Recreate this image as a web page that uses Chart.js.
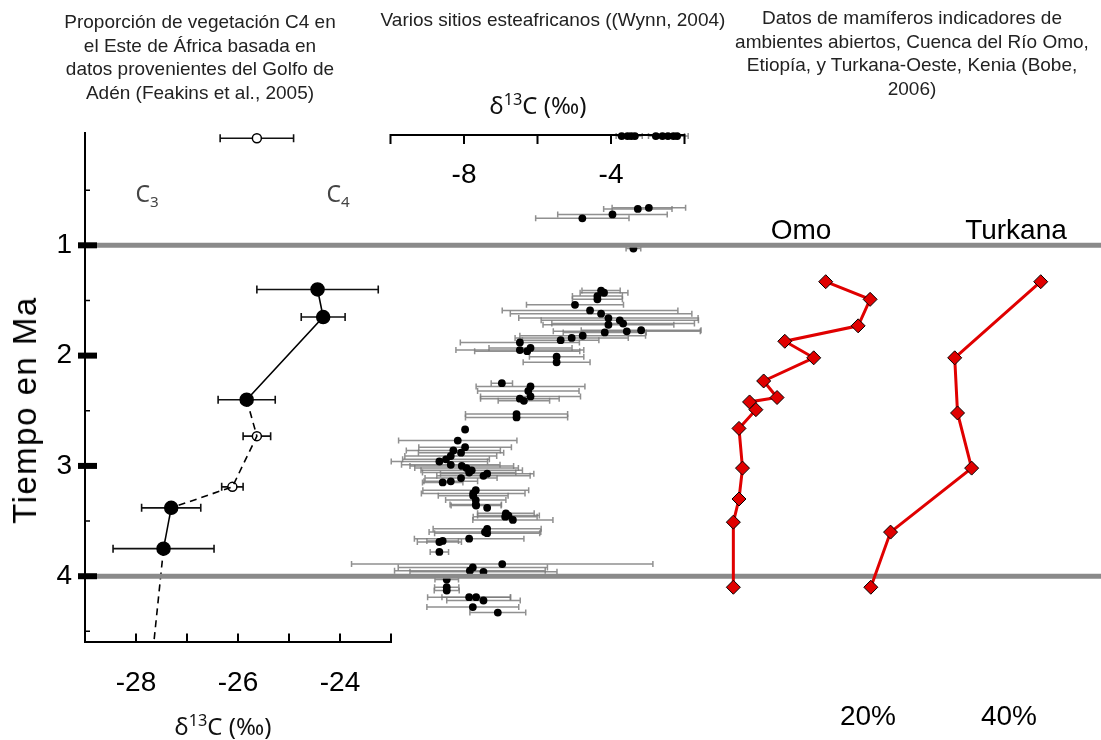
<!DOCTYPE html>
<html lang="es">
<head>
<meta charset="utf-8">
<title>Vegetación C4 y mamíferos de ambientes abiertos, África oriental</title>
<script src="https://cdn.jsdelivr.net/npm/chart.js@4.4.1/dist/chart.umd.min.js"></script>
<style>
  html, body { margin: 0; padding: 0; background: #fff; }
  #wrap { position: relative; width: 1101px; height: 740px; overflow: hidden;
          font-family: "Liberation Sans", Arial, sans-serif; color: #111; }
  #wrap canvas { position: absolute; left: 0; top: 0; }
  .lbl { position: absolute; transform: translate(-50%, -50%); white-space: nowrap; text-align: center; }
  .head { font-size: 19px; line-height: 23.5px; color: #222; }
  .big { font-size: 28px; color: #000; }
  .iso { font-family: "Noto Sans", "DejaVu Sans", sans-serif; font-size: 24px; color: #111; }
  .iso sup { font-size: 0.68em; }
  .cc { font-family: "Noto Sans", "DejaVu Sans", sans-serif; font-size: 23px; color: #444; }
  .cc sub { font-size: 0.66em; }
</style>
</head>
<body>
<div id="wrap">
  <canvas id="feakins" width="1101" height="740"></canvas>
  <canvas id="wynn" width="1101" height="740"></canvas>
  <canvas id="bobe" width="1101" height="740"></canvas>

  <div class="lbl head" style="left:200px; top:57px">Proporción de vegetación C4 en<br>el Este de África basada en<br>datos provenientes del Golfo de<br>Adén (Feakins et al., 2005)</div>
  <div class="lbl head" style="left:553px; top:20px">Varios sitios esteafricanos ((Wynn, 2004)</div>
  <div class="lbl head" style="left:912px; top:53px">Datos de mamíferos indicadores de<br>ambientes abiertos, Cuenca del Río Omo,<br>Etiopía, y Turkana-Oeste, Kenia (Bobe,<br>2006)</div>

  <div class="lbl iso" style="left:538px; top:104px">δ<sup>13</sup>C (‰)</div>
  <div class="lbl iso" style="left:223px; top:725px">δ<sup>13</sup>C (‰)</div>
  <div class="lbl cc" style="left:147px; top:194px">C<sub>3</sub></div>
  <div class="lbl cc" style="left:338px; top:194px">C<sub>4</sub></div>

  <div class="lbl big" style="left:801px; top:230px">Omo</div>
  <div class="lbl big" style="left:1016px; top:230px">Turkana</div>
  <div class="lbl big" style="left:25px; top:410px; font-size:33px; letter-spacing:1.5px; transform: translate(-50%, -50%) rotate(-90deg)">Tiempo en Ma</div>
</div>

<script>
// ---- data ----
// Golfo de Adén (Feakins et al., 2005): edad en Ma, d13C, error, tipo de símbolo
var feakAge  = [0.03, 1.40, 1.65, 2.40, 2.73, 3.19, 3.38, 3.75, 4.60];
var feakD13C = [-25.63, -24.44, -24.33, -25.83, -25.63, -26.11, -27.31, -27.46, -27.65];
var feakErr  = [0.72, 1.19, 0.43, 0.56, 0.27, 0.21, 0.58, 0.99, 0];
var feakType = ['open', 'filled', 'filled', 'filled', 'open', 'open', 'filled', 'filled', 'none'];

// sitios esteafricanos (Wynn, 2004)
var wynnAge = [
  0.01, 0.01, 0.01, 0.01, 0.01, 0.01, 0.01, 0.01, 0.01,
  0.66, 0.67, 0.72, 0.755, 1.03,
  1.41, 1.43, 1.46, 1.49, 1.54, 1.59, 1.62, 1.66, 1.68, 1.71, 1.72, 1.77,
  1.78, 1.79, 1.82, 1.84, 1.86, 1.88, 1.93, 1.95, 1.96, 2.01, 2.06,
  2.25, 2.28, 2.32, 2.37, 2.39, 2.41, 2.53, 2.56,
  2.67, 2.77, 2.83, 2.86, 2.88, 2.91, 2.94, 2.96, 2.99, 3.00, 3.02, 3.04,
  3.06, 3.07, 3.09, 3.11, 3.14, 3.15,
  3.22, 3.25, 3.27, 3.31, 3.35, 3.36, 3.38, 3.43, 3.45, 3.46, 3.49,
  3.57, 3.60, 3.61, 3.66, 3.68, 3.69, 3.78,
  3.89, 3.92, 3.95, 3.96,
  4.03, 4.10, 4.13, 4.19, 4.19, 4.22, 4.28, 4.33
];
var wynnD13C = [
  -3.71, -3.55, -3.45, -3.35, -2.78, -2.60, -2.45, -2.30, -2.20,
  -2.97, -3.27, -3.96, -4.78, -3.39,
  -4.27, -4.19, -4.37, -4.37, -4.98, -4.57, -4.27, -4.07, -3.76, -3.67, -4.07, -3.18,
  -3.57, -4.17, -4.77, -5.07, -5.37, -6.48, -6.19, -6.48, -6.28, -5.48, -5.48,
  -6.97, -6.19, -6.25, -6.19, -6.48, -6.37, -6.57, -6.57,
  -7.97, -8.17, -7.97, -8.29, -8.08, -8.36, -8.49, -8.67, -8.36, -8.06, -7.93, -7.79,
  -7.86, -7.37, -7.47, -8.08, -8.36, -8.58,
  -7.68, -7.75, -7.75, -7.68, -7.68, -7.67, -7.37, -6.86, -6.79, -6.88, -6.67,
  -7.37, -7.43, -7.37, -7.86, -8.58, -8.67, -8.67,
  -6.96, -7.76, -7.84, -7.47,
  -8.47, -8.47, -8.47, -7.86, -7.67, -7.47, -7.76, -7.08
];
var wynnErr = [
  0.15, 0.15, 0.15, 0.2, 0.2, 0.2, 0.25, 0.3, 0.3,
  1.00, 0.93, 1.49, 1.27, 0.2,
  0.52, 0.65, 0.68, 0.68, 1.32, 2.39, 2.47, 2.44, 2.14, 1.94, 1.78, 1.63,
  2.00, 1.13, 1.71, 1.54, 1.04, 1.62, 1.13, 1.74, 1.43, 0.74, 0.91,
  0.29, 1.48, 1.38, 1.36, 1.07, 0.70, 1.39, 1.39,
  0, 1.61, 1.26, 1.28, 1.16, 1.25, 1.18, 1.31, 1.34, 1.41, 1.41, 1.38,
  1.27, 1.27, 1.27, 0.98, 0.73, 0.55,
  1.44, 1.41, 0.95, 0.82, 0.70, 0.68, 0, 0.77, 0.84, 0.87, 1.09,
  1.47, 1.52, 1.43, 1.49, 0.43, 0.60, 0.25,
  4.10, 2.03, 2.05, 2.00,
  0.32, 0.33, 0.34, 1.13, 0.93, 1.00, 1.25, 0.76
];

// mamíferos de ambientes abiertos (Bobe, 2006), %
var omoAge  = [1.33, 1.49, 1.73, 1.87, 2.02, 2.23, 2.38, 2.42, 2.49, 2.66, 3.02, 3.30, 3.51, 4.10];
var omoPct  = [14.0, 20.3, 18.6, 8.2, 12.3, 5.2, 7.1, 3.2, 4.1, 1.7, 2.2, 1.7, 0.9, 0.9];
var turkAge = [1.33, 2.02, 2.52, 3.02, 3.60, 4.10];
var turkPct = [44.5, 32.3, 32.7, 34.7, 23.2, 20.4];

// ticks
var ageTicks      = [1, 2, 3, 4];
var ageMinorTicks = [0.5, 1.5, 2.5, 3.5, 4.5];
var refLines      = [1, 4];
var feakXTicks    = [-28, -27, -26, -25, -24, -23];
var wynnXTicks    = [-10, -8, -6, -4, -2];
var wynnXLabels   = [-8, -4];
var pctTicks      = [20, 40];

var AGE_MIN = -0.02, AGE_MAX = 4.6;
var TOP = 132.8, BOTTOM_AXIS = 97.6;
var FONT = '"Liberation Sans", Arial, sans-serif';

Chart.defaults.font.family = FONT;
Chart.defaults.color = '#000';

// horizontal error bars for datasets carrying errX
var errorBars = {
  id: 'errorBars',
  beforeDatasetsDraw: function (chart) {
    var ctx = chart.ctx, xs = chart.scales.x, ys = chart.scales.y;
    chart.data.datasets.forEach(function (ds) {
      if (!ds.errX) return;
      ctx.save();
      ctx.strokeStyle = ds.errColor;
      ctx.lineWidth = ds.errWidth;
      ds.data.forEach(function (p, i) {
        var e = ds.errX[i];
        if (!e) return;
        var y = ys.getPixelForValue(p.y);
        var x0 = xs.getPixelForValue(p.x - e), x1 = xs.getPixelForValue(p.x + e);
        var c = ds.errCap;
        ctx.beginPath();
        ctx.moveTo(x0, y); ctx.lineTo(x1, y);
        ctx.moveTo(x0, y - c); ctx.lineTo(x0, y + c);
        ctx.moveTo(x1, y - c); ctx.lineTo(x1, y + c);
        ctx.stroke();
      });
      ctx.restore();
    });
  }
};
Chart.register(errorBars);

function pts(xs, ys) {
  return xs.map(function (x, i) { return {x: x, y: ys[i]}; });
}

function ageScale(show) {
  return {
    type: 'linear', min: AGE_MIN, max: AGE_MAX, reverse: true, display: show
  };
}

// ---- panel 1: Feakins ----
var feakPts = pts(feakD13C, feakAge);
var markIdx = feakType.map(function (t, i) { return t === 'none' ? -1 : i; }).filter(function (i) { return i >= 0; });

var ya = ageScale(true);
ya.position = 'left';
ya.afterFit = function (s) { s.width = 85; s.paddingTop = 0; s.paddingBottom = 0; };
ya.afterBuildTicks = function (s) {
  s.ticks = ageMinorTicks.concat(ageTicks).sort(function (a, b) { return a - b; }).map(function (v) { return {value: v}; });
};
ya.grid = {display: false, drawTicks: false};
ya.border = {display: true, color: '#000', width: 2};
ya.ticks = {
  padding: 13, autoSkip: false, font: {size: 28},
  callback: function (v) { return ageTicks.indexOf(v) >= 0 ? String(v) : ''; }
};

new Chart(document.getElementById('feakins'), {
  type: 'scatter',
  data: {
    datasets: [{
      // the topmost sample is not linked to the others
      type: 'line',
      data: feakPts.slice(1),
      borderColor: '#000',
      borderWidth: 1.6,
      pointRadius: 0,
      fill: false,
      clip: false,
      segment: {
        borderDash: function (c) {
          var a = feakType[c.p0DataIndex + 1], b = feakType[c.p1DataIndex + 1];
          return (a === 'filled' && b === 'filled') ? undefined : [7, 5];
        }
      }
    }, {
      data: markIdx.map(function (i) { return feakPts[i]; }),
      errX: markIdx.map(function (i) { return feakErr[i]; }),
      errColor: '#111', errWidth: 1.6, errCap: 4,
      pointRadius: markIdx.map(function (i) { return feakType[i] === 'filled' ? 6.5 : 4.5; }),
      pointBackgroundColor: markIdx.map(function (i) { return feakType[i] === 'filled' ? '#000' : '#fff'; }),
      pointBorderColor: '#000',
      pointBorderWidth: 1.5,
      clip: false
    }]
  },
  options: {
    responsive: false, animation: false, events: [], devicePixelRatio: 1,
    layout: {padding: {left: 0, right: 710, top: TOP, bottom: 0}},
    plugins: {legend: {display: false}, tooltip: {enabled: false}},
    scales: {
      x: {
        type: 'linear', min: -29, max: -23, position: 'bottom',
        afterFit: function (s) { s.height = BOTTOM_AXIS; s.paddingLeft = 0; s.paddingRight = 0; },
        afterBuildTicks: function (s) { s.ticks = feakXTicks.map(function (v) { return {value: v}; }); },
        grid: {display: false, drawTicks: false},
        border: {display: true, color: '#000', width: 2},
        ticks: {
          padding: 24, autoSkip: false, maxRotation: 0, font: {size: 28},
          callback: function (v) { return v % 2 === 0 ? String(v) : ''; }
        }
      },
      y: ya
    }
  },
  plugins: [{
    id: 'feakAxes',
    afterDraw: function (chart) {
      var ctx = chart.ctx, a = chart.chartArea, x = chart.scales.x, y = chart.scales.y;
      ctx.save();
      ctx.fillStyle = '#000';
      ctx.strokeStyle = '#000';
      ageTicks.forEach(function (v) {
        var py = y.getPixelForValue(v);
        ctx.fillRect(a.left - 7, py - 3, 19, 6);
      });
      ctx.lineWidth = 1.5;
      ctx.beginPath();
      ageMinorTicks.forEach(function (v) {
        var py = y.getPixelForValue(v);
        ctx.moveTo(a.left, py); ctx.lineTo(a.left + 5, py);
      });
      ctx.stroke();
      ctx.lineWidth = 2;
      ctx.beginPath();
      feakXTicks.forEach(function (v) {
        var px = x.getPixelForValue(v);
        ctx.moveTo(px, a.bottom); ctx.lineTo(px, a.bottom - 9);
      });
      ctx.stroke();
      ctx.restore();
    }
  }]
});

// ---- panel 2: Wynn ----
new Chart(document.getElementById('wynn'), {
  type: 'scatter',
  data: {
    datasets: [{
      data: pts(wynnD13C, wynnAge),
      errX: wynnErr,
      errColor: 'rgba(125,125,125,0.85)', errWidth: 1.5, errCap: 3,
      pointRadius: 3.9,
      pointBackgroundColor: '#000',
      pointBorderWidth: 0,
      clip: false
    }]
  },
  options: {
    responsive: false, animation: false, events: [], devicePixelRatio: 1,
    layout: {padding: {left: 390.5, right: 416.5, top: TOP, bottom: BOTTOM_AXIS}},
    plugins: {legend: {display: false}, tooltip: {enabled: false}},
    scales: {
      x: {type: 'linear', min: -10, max: -2, display: false},
      y: ageScale(false)
    }
  },
  plugins: [{
    id: 'wynnAxis',
    beforeDatasetsDraw: function (chart) {
      var ctx = chart.ctx, x = chart.scales.x, y = chart.scales.y;
      var y0 = y.getPixelForValue(0);
      ctx.save();
      ctx.strokeStyle = '#000';
      ctx.lineWidth = 2;
      ctx.beginPath();
      ctx.moveTo(x.getPixelForValue(wynnXTicks[0]), y0);
      ctx.lineTo(x.getPixelForValue(wynnXTicks[wynnXTicks.length - 1]), y0);
      wynnXTicks.forEach(function (v) {
        var px = x.getPixelForValue(v);
        ctx.moveTo(px, y0 - 1); ctx.lineTo(px, y0 + 9);
      });
      ctx.stroke();
      ctx.fillStyle = '#000';
      ctx.font = '28px ' + FONT;
      ctx.textAlign = 'center';
      ctx.textBaseline = 'middle';
      wynnXLabels.forEach(function (v) {
        ctx.fillText(String(v), x.getPixelForValue(v), y0 + 40);
      });
      ctx.restore();
    },
    afterDatasetsDraw: function (chart) {
      // grey reference lines at 1 and 4 Ma across the whole figure
      var ctx = chart.ctx, y = chart.scales.y;
      ctx.save();
      ctx.strokeStyle = '#8a8a8a';
      ctx.lineWidth = 5;
      refLines.forEach(function (v) {
        var py = y.getPixelForValue(v);
        ctx.beginPath();
        ctx.moveTo(97, py);
        ctx.lineTo(chart.width, py);
        ctx.stroke();
      });
      ctx.restore();
    }
  }]
});

// ---- panel 3: Omo / Turkana ----
function redSeries(data) {
  return {
    data: data,
    showLine: true,
    borderColor: '#e00000',
    borderWidth: 3,
    pointStyle: 'rectRot',
    pointRadius: 7,
    pointBackgroundColor: '#e00000',
    pointBorderColor: '#000',
    pointBorderWidth: 1,
    clip: false
  };
}

new Chart(document.getElementById('bobe'), {
  type: 'scatter',
  data: {
    datasets: [redSeries(pts(omoPct, omoAge)), redSeries(pts(turkPct, turkAge))]
  },
  options: {
    responsive: false, animation: false, events: [], devicePixelRatio: 1,
    layout: {padding: {left: 712.9, right: 21.5, top: TOP, bottom: 0}},
    plugins: {legend: {display: false}, tooltip: {enabled: false}},
    scales: {
      x: {
        type: 'linear', min: -2, max: 50, position: 'bottom',
        afterFit: function (s) { s.height = BOTTOM_AXIS; s.paddingLeft = 0; s.paddingRight = 0; },
        afterBuildTicks: function (s) { s.ticks = pctTicks.map(function (v) { return {value: v}; }); },
        grid: {display: false, drawTicks: false},
        border: {display: false},
        ticks: {
          padding: 58, autoSkip: false, maxRotation: 0, font: {size: 28},
          callback: function (v) { return v + '%'; }
        }
      },
      y: ageScale(false)
    }
  }
});
</script>
</body>
</html>
